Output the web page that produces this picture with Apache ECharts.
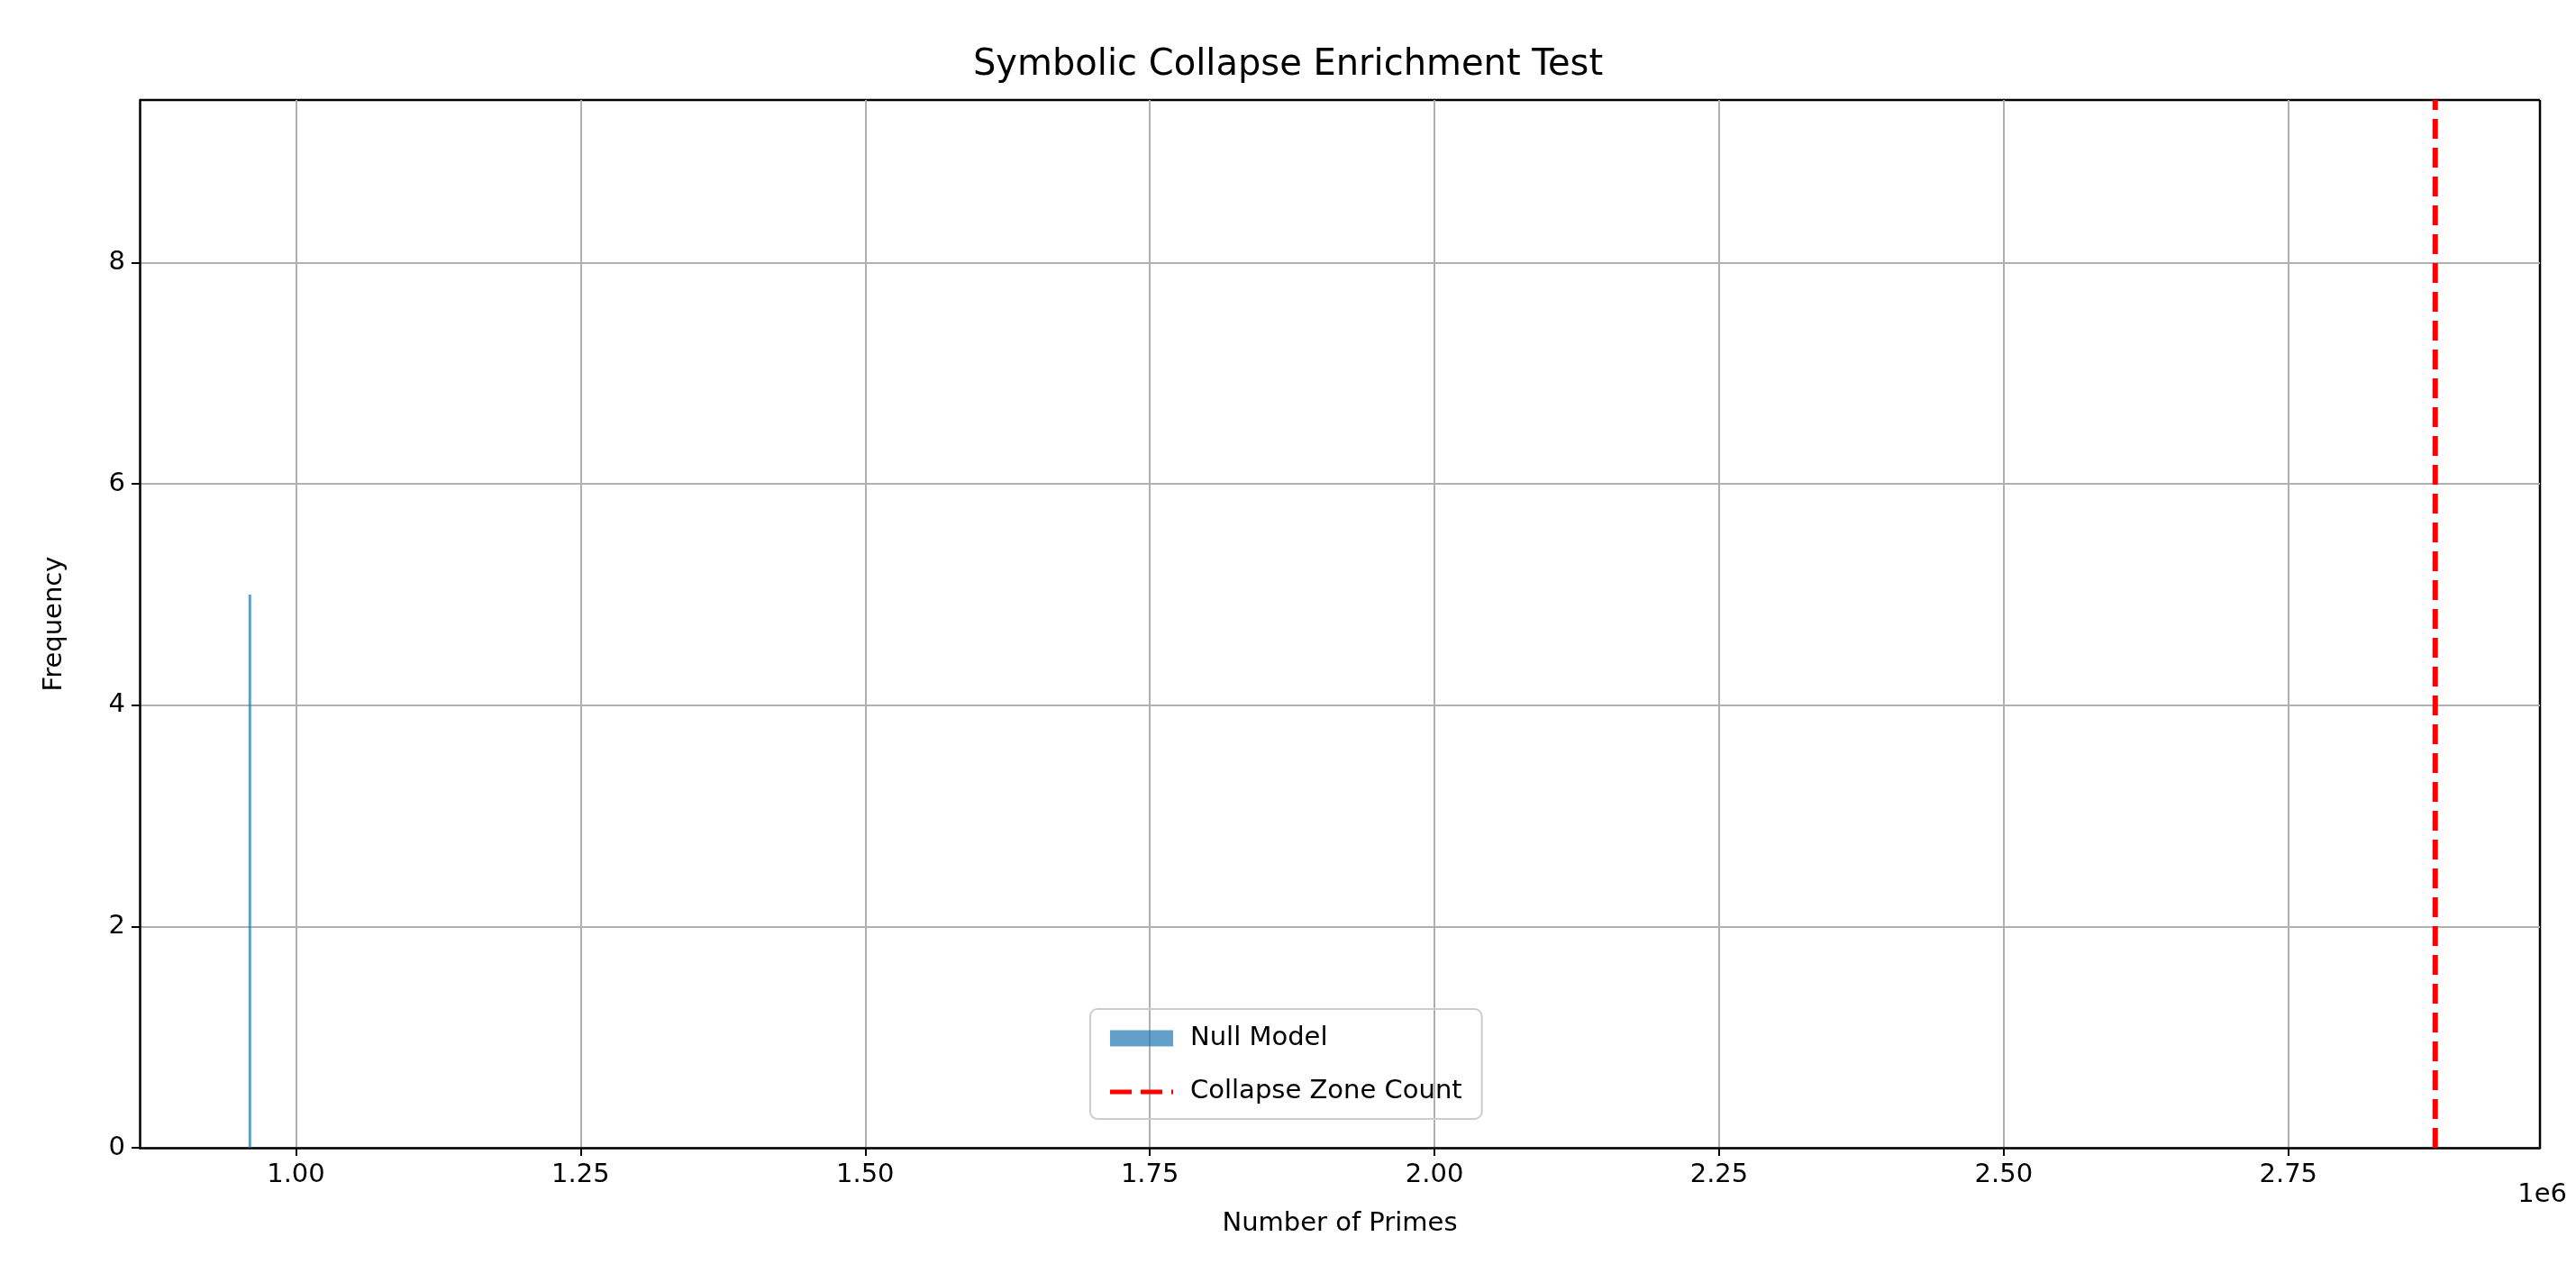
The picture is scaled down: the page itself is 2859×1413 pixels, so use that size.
<!DOCTYPE html>
<html>
<head>
<meta charset="utf-8">
<script src="https://cdn.jsdelivr.net/npm/echarts@6/dist/echarts.min.js"></script>
<style>html,body{margin:0;padding:0;background:#fff}#chart{width:2859px;height:1413px}</style>
</head>
<body>
<div id="chart"></div>
<script>
// histogram of the null model (bin centre, count)
var nullBins = [959500];
var nullCounts = [5];
var collapseCount = 2879000;
var xTicks = [1000000, 1250000, 1500000, 1750000, 2000000, 2250000, 2500000, 2750000];
var yTicks = [0, 2, 4, 6, 8];

var chart = echarts.init(document.getElementById('chart'));
var font = 'DejaVu Sans';
var option = {
  animation: false,
  title: {
    text: 'Symbolic Collapse Enrichment Test',
    left: 'center', top: 48,
    textStyle: { fontFamily: font, fontSize: 40, fontWeight: 'normal', color: '#000' }
  },
  legend: {
    left: 1210, top: 1120,
    orient: 'vertical',
    itemGap: 30, itemWidth: 70, itemHeight: 26,
    padding: [18, 22, 16, 22],
    borderColor: '#ccc', borderWidth: 2, borderRadius: 8,
    textStyle: { fontFamily: font, fontSize: 29, color: '#000', padding: [0, 0, 0, 14] },
    data: [
      { name: 'Null Model', icon: 'path://M0,0L0,0M0,3H70V21H0Z M70,24L70,24' },
      { name: 'Collapse Zone Count', icon: 'path://M0,0L0,0M0,10H24V15H0Z M34,10H58V15H34Z M68,10H70V15H68Z M70,24L70,24' }
    ]
  },
  grid: { left: 155, right: 40, top: 111, bottom: 139 },
  xAxis: {
    type: 'value', min: 862700, max: 2971000,
    name: 'Number of Primes', nameLocation: 'middle', nameGap: 70,
    nameTextStyle: { fontFamily: font, fontSize: 29, color: '#000' },
    axisLine: { onZero: false, lineStyle: { color: '#000', width: 2.5 } },
    axisTick: { show: true, length: 9, lineStyle: { color: '#000', width: 2 }, customValues: xTicks },
    axisLabel: { fontFamily: font, fontSize: 29, color: '#000', margin: 16,
      customValues: xTicks, formatter: function (v) { return (v / 1e6).toFixed(2); } },
    splitLine: { show: true, lineStyle: { color: '#b0b0b0', width: 2 } }
  },
  yAxis: {
    type: 'value', min: 0, max: 9.47,
    name: 'Frequency', nameLocation: 'middle', nameGap: 80,
    nameTextStyle: { fontFamily: font, fontSize: 29, color: '#000' },
    axisLine: { show: true, lineStyle: { color: '#000', width: 2.5 } },
    axisTick: { show: true, length: 9, lineStyle: { color: '#000', width: 2 }, customValues: yTicks },
    axisLabel: { fontFamily: font, fontSize: 29, color: '#000', margin: 16, customValues: yTicks },
    splitLine: { show: true, lineStyle: { color: '#b0b0b0', width: 2 } }
  },
  graphic: [
    { type: 'text', right: 10, top: 1312, style: { text: '1e6', fontFamily: font, fontSize: 29, fill: '#000' } },
    { type: 'rect', shape: { x: 2819, y: 111, width: 0, height: 1163 }, style: { stroke: '#000', lineWidth: 2.5 } },
    { type: 'rect', shape: { x: 155, y: 111, width: 2664, height: 0 }, style: { stroke: '#000', lineWidth: 2.5 } }
  ],
  series: [
    {
      name: 'Null Model', type: 'bar', barWidth: 3,
      itemStyle: { color: 'rgba(31,119,180,0.7)' },
      data: nullBins.map(function (b, i) { return [b, nullCounts[i]]; })
    },
    {
      name: 'Collapse Zone Count', type: 'line', symbol: 'none',
      lineStyle: { color: '#ff0000', width: 6, type: [22, 10] },
      itemStyle: { color: '#ff0000' },
      data: [[collapseCount, 0], [collapseCount, 9.47]]
    }
  ]
};
chart.setOption(option);
</script>
</body>
</html>
